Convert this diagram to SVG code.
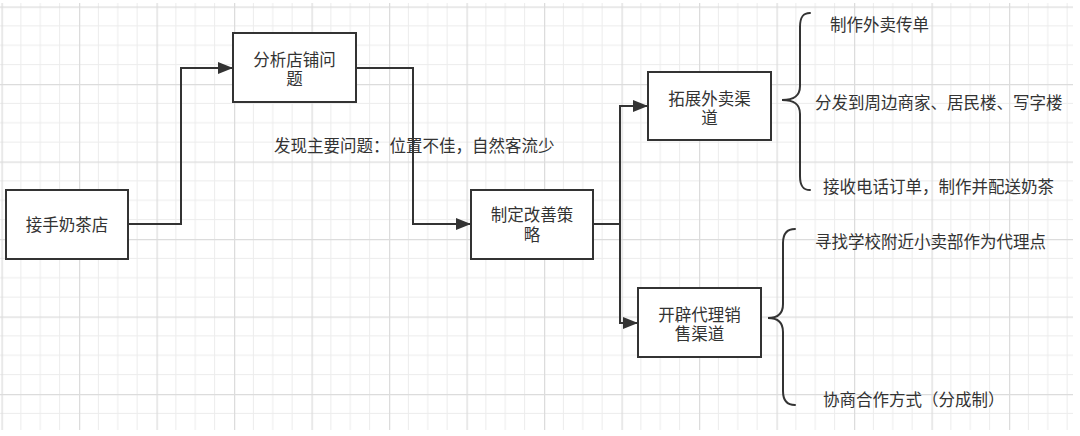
<svg xmlns="http://www.w3.org/2000/svg" width="1080" height="436" viewBox="0 0 1080 436">
<style>
.box{fill:#fff;stroke:#333;stroke-width:2}
.t{font-family:"Liberation Sans","Noto Sans CJK SC",sans-serif;font-size:16.5px;fill:#333}
.c{text-anchor:middle}
.line{fill:none;stroke:#333;stroke-width:2}
.brace{fill:none;stroke:#333;stroke-width:2;stroke-linecap:round}
</style>
<defs>
<pattern id="grid" patternUnits="userSpaceOnUse" x="1.5" y="6.5" width="77.5" height="77.5">
<path d="M19.375 0V77.5M38.75 0V77.5M58.125 0V77.5M0 19.375H77.5M0 38.75H77.5M0 58.125H77.5" stroke="#ececec" stroke-width="1" fill="none"/>
<path d="M0.5 0V77.5M0 0.5H77.5" stroke="#dcdcdc" stroke-width="1.5" fill="none"/>
</pattern>
<marker id="arr" markerUnits="userSpaceOnUse" markerWidth="15" markerHeight="12" refX="14" refY="6" orient="auto">
<path d="M0 0L15 6L0 12Z" fill="#333"/>
</marker>
</defs>
<rect width="1080" height="436" fill="#fff"/>
<rect x="0" y="3" width="1073" height="427" fill="url(#grid)"/>

<g id="connectors">
<path class="line" d="M128 224H181V68H232" marker-end="url(#arr)"/>
<path class="line" d="M356 68H413V224H470" marker-end="url(#arr)"/>
<path class="line" d="M593 224H620V106H647" marker-end="url(#arr)"/>
<path class="line" d="M620 224V323H637" marker-end="url(#arr)"/>
<path class="brace" d="M810 13C803 13 800 17 800 27V86C800 96 794 100 782 100C794 100 800 104 800 114V176C800 186 803 190 810 190"/>
<path class="brace" d="M795 229C787 229 783 233 783 243V304C783 314 777 318 768 318C777 318 783 322 783 332V391C783 401 787 405 795 405"/>
</g>

<g id="n1"><rect class="box" x="6" y="190" width="122" height="69"/>
<text class="t c" x="67" y="225" dominant-baseline="central">接手奶茶店</text></g>

<g id="n2"><rect class="box" x="233" y="33" width="123" height="69"/>
<text class="t c" x="294.5" y="60" dominant-baseline="central">分析店铺问</text>
<text class="t c" x="294.5" y="79" dominant-baseline="central">题</text></g>

<g id="label1"><text class="t" x="274" y="146" dominant-baseline="central">发现主要问题：位置不佳，自然客流少</text></g>

<g id="n3"><rect class="box" x="471" y="190" width="122" height="69"/>
<text class="t c" x="532" y="215" dominant-baseline="central">制定改善策</text>
<text class="t c" x="532" y="235" dominant-baseline="central">略</text></g>

<g id="n4"><rect class="box" x="648" y="72" width="123" height="68"/>
<text class="t c" x="709.5" y="99" dominant-baseline="central">拓展外卖渠</text>
<text class="t c" x="709.5" y="118" dominant-baseline="central">道</text></g>

<g id="n5"><rect class="box" x="638" y="288" width="123" height="69"/>
<text class="t c" x="699.5" y="315" dominant-baseline="central">开辟代理销</text>
<text class="t c" x="699.5" y="334" dominant-baseline="central">售渠道</text></g>

<g id="items1">
<text class="t" x="830" y="25" dominant-baseline="central">制作外卖传单</text>
<text class="t" x="815" y="103" dominant-baseline="central">分发到周边商家、居民楼、写字楼</text>
<text class="t" x="823" y="187" dominant-baseline="central">接收电话订单，制作并配送奶茶</text>
</g>
<g id="items2">
<text class="t" x="815" y="242" dominant-baseline="central">寻找学校附近小卖部作为代理点</text>
<text class="t" x="823" y="400" dominant-baseline="central">协商合作方式（分成制）</text>
</g>
</svg>
